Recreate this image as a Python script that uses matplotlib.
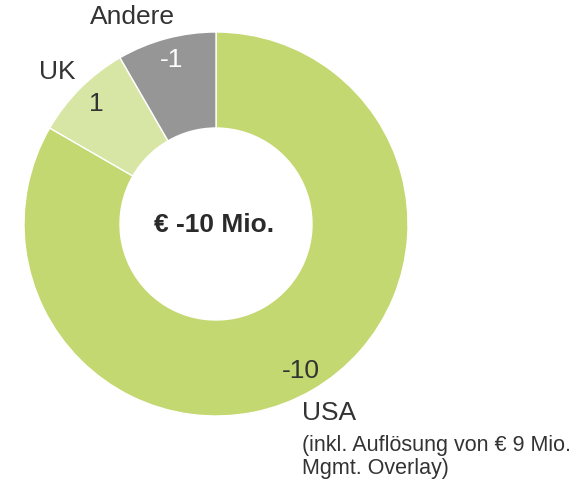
import numpy as np
import matplotlib.pyplot as plt

plt.rcParams['font.family'] = ['Liberation Sans', 'DejaVu Sans']

# data
regions = ['USA', 'UK', 'Andere']
values = [-10, 1, -1]
colors = ['#c3d870', '#d7e6a5', '#969696']
value_colors = ['#333333', '#333333', '#ffffff']
total_label = '€ -10 Mio.'
usa_note = '(inkl. Auflösung von € 9 Mio.\nMgmt. Overlay)'

W, H = 582, 487
fig = plt.figure(figsize=(W / 100, H / 100), dpi=100)
ax = fig.add_axes([0, 0, 1, 1])

cx, cy, R = 216, H - 224, 192
txt = '#333333'
fs = 19

wedges, _ = ax.pie(np.abs(values), colors=colors, startangle=90, counterclock=False,
                   center=(cx, cy), radius=R, frame=True,
                   wedgeprops=dict(width=R * 0.5, edgecolor='white', linewidth=1))
ax.set_xlim(0, W)
ax.set_ylim(0, H)
ax.axis('off')

# value labels inside the ring
for w, v, c in zip(wedges, values, value_colors):
    a = np.deg2rad((w.theta1 + w.theta2) / 2)
    r = R * 0.885
    ax.text(cx + r * np.cos(a), cy + r * np.sin(a), str(v), ha='center', va='center',
            fontsize=fs, color=c)

# category labels
ax.text(132, H - 17, 'Andere', ha='center', va='center', fontsize=fs, color=txt)
ax.text(57, H - 72, 'UK', ha='center', va='center', fontsize=fs, color=txt)
ax.text(302, H - 413, 'USA', ha='left', va='center', fontsize=fs, color=txt)
ax.text(302, H - 435, usa_note, ha='left', va='top', fontsize=15.5, color=txt,
        linespacing=1.15)

ax.text(214, H - 225, total_label, ha='center', va='center', fontsize=fs,
        fontweight='bold', color='#2a2a2a')

fig.savefig('out.png', dpi=100)
